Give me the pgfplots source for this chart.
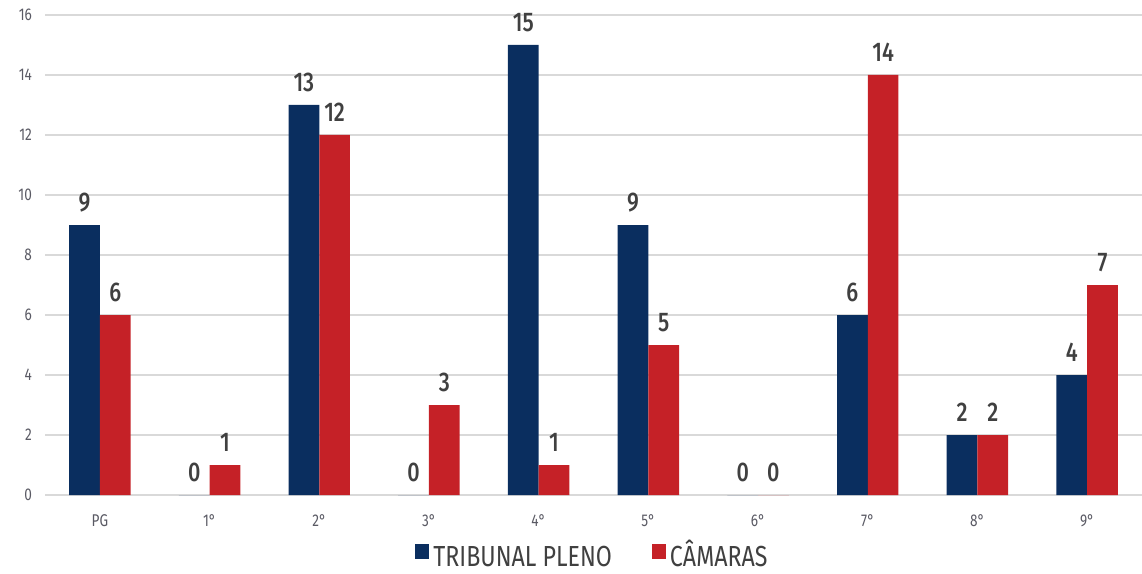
\documentclass[border=0pt]{standalone}
\usepackage{fontspec}
\setmainfont{Fira Sans}
\newfontfamily\condfont[FakeStretch=0.8]{Fira Sans}
\newfontfamily\condmed[FakeStretch=0.8]{Fira Sans Medium}
\usepackage{pgfplots}
\pgfplotsset{compat=1.18}
\definecolor{pleno}{RGB}{10,46,95}
\definecolor{camaras}{RGB}{197,33,39}
\definecolor{gridc}{RGB}{217,217,217}
\definecolor{tickc}{RGB}{90,90,100}
\definecolor{labc}{RGB}{64,64,64}
\begin{document}
\begin{tikzpicture}
\begin{axis}[
    ybar,
    scale only axis,
    width=548.5pt,
    height=240pt,
    bar width=0.28,
    xmin=-0.5, xmax=9.5,
    ymin=0, ymax=16,
    ytick={0,2,...,16},
    xtick={0,...,9},
    xticklabels={PG,1°,2°,3°,4°,5°,6°,7°,8°,9°},
    axis line style={draw=none},
    tick style={draw=none},
    ymajorgrids,
    grid style={gridc, line width=1pt},
    yticklabel style={font=\fontsize{8.5}{9}\selectfont\condfont, text=tickc, xshift=-3pt},
    xticklabel style={font=\fontsize{8.5}{9}\selectfont\condfont, text=tickc, yshift=-2pt},
    /pgf/number format/assume math mode=true,
    nodes near coords,
    nodes near coords style={font=\fontsize{13.5}{14}\selectfont\condmed, text=labc, yshift=3pt},
    legend style={at={(0.5,-0.13)}, anchor=center, legend columns=2, draw=none,
        font=\fontsize{14.5}{15}\selectfont\condfont, text=labc,
        nodes={text height=10.5pt, text depth=1pt},
        /tikz/every even column/.append style={column sep=18pt}},
    legend image code/.code={\fill[#1] (0pt,-1pt) rectangle (7pt,6.5pt);},
    clip=false,
]
\addplot[fill=pleno, draw=none, bar shift=-0.14] coordinates {
    (0,9) (1,0) (2,13) (3,0) (4,15) (5,9) (6,0) (7,6) (8,2) (9,4)
};
\addplot[fill=camaras, draw=none, bar shift=0.14] coordinates {
    (0,6) (1,1) (2,12) (3,3) (4,1) (5,5) (6,0) (7,14) (8,2) (9,7)
};
\legend{TRIBUNAL PLENO, CÂMARAS}
\coordinate (bbsw) at (rel axis cs:0,0);
\coordinate (bbne) at (rel axis cs:1,1);
\end{axis}
\pgfresetboundingbox
\path[use as bounding box] ([xshift=-22.5pt,yshift=-39pt]bbsw) rectangle ([yshift=7.5pt]bbne);
\end{tikzpicture}
\end{document}
